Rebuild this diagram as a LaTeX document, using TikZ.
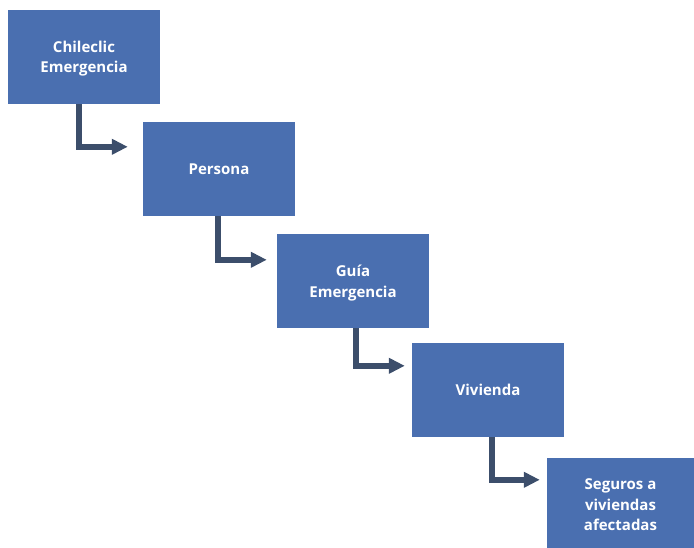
\documentclass[tikz,border=0pt]{standalone}
\usepackage{fontspec}
\setmainfont{Open Sans}
\usetikzlibrary{arrows.meta}
\definecolor{boxblue}{RGB}{74,111,176}
\definecolor{connavy}{RGB}{60,78,107}
\begin{document}
\begin{tikzpicture}[x=1pt,y=-1pt,
  stepbox/.style={fill=boxblue, draw=none, minimum width=152pt, minimum height=94pt, inner sep=0pt,
    text=white, font=\bfseries\fontsize{15}{20.5}\selectfont, align=center, text depth=0pt},
  conn/.style={draw=connavy, line width=6pt, -{Triangle[length=16pt,width=15pt]}}]
\useasboundingbox (0,0) rectangle (694,547);
\node[stepbox] (b1) at (84,57) {Chileclic\\Emergencia};
\node[stepbox] (b2) at (219,169) {Persona};
\node[stepbox] (b3) at (353,281) {Guía\\Emergencia};
\node[stepbox] (b4) at (488,390) {Vivienda};
\node[stepbox, minimum width=147pt, minimum height=94pt] (b5) at (620.5,505) {Seguros a\\viviendas\\afectadas};
\draw[conn] ([xshift=71pt]b1.south west) |- ([xshift=-15pt,yshift=-25pt]b2.north west);
\draw[conn] ([xshift=75pt]b2.south west) |- ([xshift=-10pt,yshift=-26pt]b3.north west);
\draw[conn] ([xshift=79pt]b3.south west) |- ([xshift=-7pt,yshift=-23pt]b4.north west);
\draw[conn] ([xshift=80pt]b4.south west) |- ([xshift=-7pt,yshift=-22pt]b5.north west);
\end{tikzpicture}
\end{document}
